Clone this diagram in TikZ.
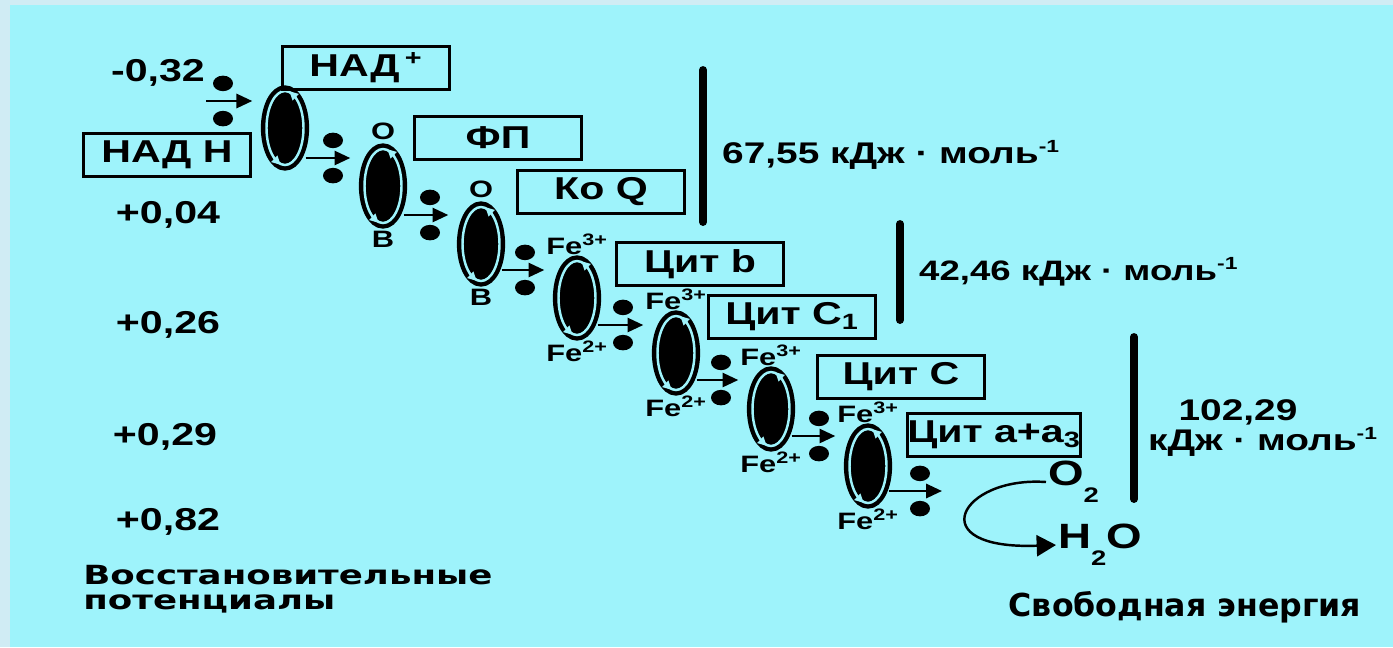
\documentclass[tikz,border=0pt]{standalone}
\usepackage{fontspec}
\setmainfont{Liberation Sans}[FakeStretch=1.3]
\newfontfamily\capfont{DejaVu Sans}[FakeStretch=1.35]
\newfontfamily\freefont{DejaVu Sans}
\usetikzlibrary{positioning,shapes.geometric,arrows.meta,decorations.markings}
\definecolor{cyanbg}{RGB}{158,243,251}
\definecolor{edgebg}{RGB}{208,236,244}
\tikzset{
  carrier/.style={ellipse, draw=black, fill=black, line width=2.5pt,
    double=cyanbg, double distance=1.4pt, minimum width=0.74cm,
    minimum height=1.48cm, inner sep=0pt,
    postaction={decorate, decoration={markings,
      mark=at position 0.2 with {\fill[cyanbg] (-2.2pt,-2.6pt) -- (2.8pt,0) -- (-2.2pt,2.6pt) -- cycle;},
      mark=at position 0.7 with {\fill[cyanbg] (-2.2pt,-2.6pt) -- (2.8pt,0) -- (-2.2pt,2.6pt) -- cycle;}}}},
  elec/.style={ellipse, fill=black, minimum width=0.4cm, minimum height=0.31cm, inner sep=0pt},
  stage/.style={draw, line width=1.6pt, minimum width=3.34cm, minimum height=0.86cm,
    inner sep=0pt, font=\fontsize{18}{18}\selectfont\bfseries},
  flow/.style={line width=1.5pt, -{Triangle[length=9pt,width=8pt]}},
  pot/.style={font=\fontsize{18}{18}\selectfont\bfseries},
  ion/.style={font=\fontsize{13.5}{13.5}\selectfont\bfseries, inner sep=1pt},
  gap/.style={line width=4.5pt, line cap=round},
  nrg/.style={font=\fontsize{17}{17}\selectfont\bfseries, anchor=west},
  chem/.style={font=\fontsize{20}{20}\selectfont\bfseries},
}
\newcommand{\lowtwo}{\raisebox{-0.9ex}{\fontsize{12}{12}\selectfont 2}}
\newcommand{\permol}{кДж · моль\textsuperscript{\fontsize{10}{10}\selectfont -1}}
\begin{document}
\begin{tikzpicture}[x=0.02cm, y=-0.02cm]
  \useasboundingbox (0,0) rectangle (1393,647);
  \fill[edgebg] (0,0) rectangle (1393,647);
  \fill[cyanbg] (10,5) rectangle (1393,647);

  % carriers
  \node[carrier] (e1) at (285,128) {};
  \node[carrier] (e2) at (383,186) {};
  \node[carrier] (e3) at (481,244) {};
  \node[carrier] (e4) at (577,298) {};
  \node[carrier] (e5) at (676,353) {};
  \node[carrier] (e6) at (771,409) {};
  \node[carrier] (e7) at (868,466) {};

  % boxes
  \node[stage] (nadp) at (366,68) {НАД\,\textsuperscript{+}};
  \node[stage] (nadh) at (167,155) {НАД Н};
  \node[stage] (fp) at (498,138) {ФП};
  \node[stage] (koq) at (601,192) {Ко Q};
  \node[stage] (cytb) at (700,264) {Цит b};
  \node[stage] (cytc1) at (792,317) {Цит С\textsubscript{1}};
  \node[stage] (cytc) at (901,377) {Цит С};
  \node[stage] (cytaa) at (994,435) {Цит а+а\textsubscript{3}};

  % electron pairs
  \coordinate (m1s) at (206,101);
  \coordinate (m1) at (223,101);
  \coordinate (m2) at (333,158);
  \coordinate (m3) at (430,215);
  \coordinate (m4) at (525,270);
  \coordinate (m5) at (623,325);
  \coordinate (m6) at (721,380);
  \coordinate (m7) at (819,436);
  \coordinate (m8) at (920,491);
  \coordinate (sink) at (942,491);
  \node[elec, above=0.19cm of m1] (d1a) {};
  \node[elec, below=0.19cm of m1] (d1b) {};
  \node[elec, above=0.19cm of m2] (d2a) {};
  \node[elec, below=0.19cm of m2] (d2b) {};
  \node[elec, above=0.19cm of m3] (d3a) {};
  \node[elec, below=0.19cm of m3] (d3b) {};
  \node[elec, above=0.19cm of m4] (d4a) {};
  \node[elec, below=0.19cm of m4] (d4b) {};
  \node[elec, above=0.19cm of m5] (d5a) {};
  \node[elec, below=0.19cm of m5] (d5b) {};
  \node[elec, above=0.19cm of m6] (d6a) {};
  \node[elec, below=0.19cm of m6] (d6b) {};
  \node[elec, above=0.19cm of m7] (d7a) {};
  \node[elec, below=0.19cm of m7] (d7b) {};
  \node[elec, above=0.19cm of m8] (d8a) {};
  \node[elec, below=0.19cm of m8] (d8b) {};

  \draw[flow, shorten >=0.24cm] (m1s) -- (e1.west |- m1);
  \draw[flow, shorten >=0.24cm] (e1.east |- m2) -- (e2.west |- m2);
  \draw[flow, shorten >=0.24cm] (e2.east |- m3) -- (e3.west |- m3);
  \draw[flow, shorten >=0.24cm] (e3.east |- m4) -- (e4.west |- m4);
  \draw[flow, shorten >=0.24cm] (e4.east |- m5) -- (e5.west |- m5);
  \draw[flow, shorten >=0.24cm] (e5.east |- m6) -- (e6.west |- m6);
  \draw[flow, shorten >=0.24cm] (e6.east |- m7) -- (e7.west |- m7);
  \draw[flow] (e7.east |- m8) -- (sink);

  % redox states
  \node[ion, above=3pt of e2] (ox2) {О};
  \node[ion, below=2pt of e2] (rd2) {В};
  \node[ion, above=3pt of e3] (ox3) {О};
  \node[ion, below=2pt of e3] (rd3) {В};
  \node[ion, above=1pt of e4] (ox4) {Fe\textsuperscript{3+}};
  \node[ion, below=1pt of e4] (rd4) {Fe\textsuperscript{2+}};
  \node[ion, above=1pt of e5] (ox5) {Fe\textsuperscript{3+}};
  \node[ion, below=1pt of e5] (rd5) {Fe\textsuperscript{2+}};
  \node[ion, above=1pt of e6] (ox6) {Fe\textsuperscript{3+}};
  \node[ion, below=1pt of e6] (rd6) {Fe\textsuperscript{2+}};
  \node[ion, above=1pt of e7] (ox7) {Fe\textsuperscript{3+}};
  \node[ion, below=1pt of e7] (rd7) {Fe\textsuperscript{2+}};

  % potentials
  \node[pot] (p1) at (158,73) {-0,32};
  \node[pot] (p2) at (168,215) {+0,04};
  \node[pot] (p3) at (168,325) {+0,26};
  \node[pot] (p4) at (165,437) {+0,29};
  \node[pot] (p5) at (168,522) {+0,82};
  \node[anchor=north west, align=left, inner sep=0pt,
    font=\capfont\fontsize{15}{14}\selectfont\bfseries] (redox) at (83,565)
    {Восстановительные\\потенциалы};

  % free energy
  \draw[gap] (703,70) -- (703,222);
  \draw[gap] (900,224) -- (900,320);
  \draw[gap] (1134,337) -- (1134,499);
  \node[nrg] (en1) at (716,155) {67,55 \permol};
  \node[nrg, font=\fontsize{16}{16}\selectfont\bfseries] (en2) at (913,272) {42,46 \permol};
  \node[nrg, anchor=center] (en3) at (1238,412) {102,29};
  \node[nrg, anchor=center] (en3b) at (1263,442) {\permol};
  \node[font=\freefont\fontsize{18}{18}\selectfont\bfseries] (free) at (1185,607) {Свободная энергия};

  % oxygen
  \node[chem, anchor=west, inner sep=1pt] (oxy) at (1046,482) {O\lowtwo};
  \node[chem, anchor=west, inner sep=1pt] (water) at (1056,545) {H\lowtwo O};
  \draw[line width=1.4pt, -{Triangle[length=11pt,width=12pt]}]
    (oxy.west) .. controls (960,476) and (920,550) .. (water.west);
\end{tikzpicture}
\end{document}
